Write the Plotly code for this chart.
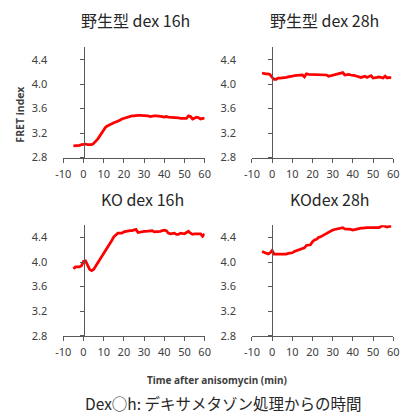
import plotly.graph_objects as go

W, H = 405, 417

minutes = list(range(-5, 61))
minutes_59 = list(range(-5, 60))

wt_16h = [2.99, 2.99, 3.00, 3.00, 3.01, 3.02, 3.02, 3.01, 3.01, 3.01, 3.03, 3.06, 3.10, 3.15, 3.20,
          3.25, 3.30, 3.32, 3.34, 3.36, 3.37, 3.38, 3.39, 3.41, 3.43, 3.44, 3.46, 3.47, 3.47, 3.48,
          3.48, 3.49, 3.49, 3.49, 3.49, 3.49, 3.49, 3.48, 3.47, 3.48, 3.48, 3.48, 3.48, 3.48, 3.47,
          3.46, 3.47, 3.46, 3.46, 3.46, 3.45, 3.45, 3.45, 3.44, 3.44, 3.43, 3.44, 3.48, 3.47, 3.43,
          3.44, 3.46, 3.45, 3.43, 3.44, 3.44]

wt_28h = [4.18, 4.17, 4.17, 4.17, 4.155, 4.11, 4.08, 4.08, 4.10, 4.10, 4.10, 4.11, 4.11, 4.12, 4.12,
          4.13, 4.14, 4.14, 4.15, 4.14, 4.15, 4.12, 4.17, 4.16, 4.16, 4.15, 4.15, 4.15, 4.15, 4.15,
          4.15, 4.155, 4.15, 4.13, 4.14, 4.15, 4.15, 4.16, 4.17, 4.18, 4.19, 4.15, 4.16, 4.16, 4.15,
          4.15, 4.14, 4.13, 4.12, 4.11, 4.12, 4.13, 4.11, 4.12, 4.14, 4.10, 4.10, 4.11, 4.12, 4.11,
          4.10, 4.13, 4.10, 4.11, 4.10]

ko_16h = [3.89, 3.92, 3.92, 3.92, 3.94, 4.01, 4.02, 3.95, 3.88, 3.86, 3.88, 3.93, 3.98, 4.04, 4.09,
          4.14, 4.18, 4.23, 4.29, 4.35, 4.41, 4.44, 4.47, 4.47, 4.47, 4.49, 4.50, 4.51, 4.51, 4.51,
          4.52, 4.53, 4.48, 4.49, 4.50, 4.50, 4.50, 4.50, 4.50, 4.51, 4.49, 4.49, 4.49, 4.50, 4.51,
          4.52, 4.51, 4.47, 4.46, 4.46, 4.47, 4.45, 4.45, 4.47, 4.46, 4.46, 4.48, 4.50, 4.47, 4.45,
          4.46, 4.46, 4.47, 4.46, 4.42, 4.46]

ko_28h = [4.17, 4.16, 4.15, 4.13, 4.15, 4.19, 4.13, 4.13, 4.13, 4.13, 4.12, 4.12, 4.13, 4.14, 4.14,
          4.15, 4.17, 4.18, 4.19, 4.20, 4.22, 4.23, 4.27, 4.28, 4.28, 4.33, 4.36, 4.37, 4.40, 4.41,
          4.43, 4.45, 4.47, 4.48, 4.50, 4.52, 4.53, 4.54, 4.55, 4.56, 4.56, 4.54, 4.54, 4.54, 4.53,
          4.52, 4.53, 4.54, 4.54, 4.55, 4.55, 4.56, 4.56, 4.56, 4.56, 4.56, 4.57, 4.57, 4.56, 4.58,
          4.59, 4.58, 4.57, 4.58, 4.58]

panel_titles = ["野生型 dex 16h", "野生型 dex 28h", "KO dex 16h", "KOdex 28h"]
x_ticks = [-10, 0, 10, 20, 30, 40, 50, 60]
x_tick_text = ["-10", "0", "10", "20", "30", "40", "50", "60"]
y_ticks = [2.8, 3.2, 3.6, 4.0, 4.4]
y_tick_text = ["2.8", "3.2", "3.6", "4.0", "4.4"]

series = [(minutes, wt_16h), (minutes_59, wt_28h), (minutes, ko_16h), (minutes_59, ko_28h)]

# panel geometry in pixels: (x_left, x_right, y_top(4.6), y_bottom(2.8))
panels_px = [(57.3, 203.7, 48.3, 160.2), (252.7, 399.0, 48.3, 160.2),
             (57.3, 203.7, 229.0, 341.5), (252.7, 399.0, 229.0, 341.5)]
title_px = [(132, 20.5), (327.7, 20.5), (139.5, 202.5), (333.8, 202.5)]

AX = "#595959"
TXT = "#404040"
FONT = "Noto Sans, Open Sans, sans-serif"
CJK = "Noto Sans CJK JP, Noto Sans, sans-serif"

fig = go.Figure()
layout = dict(
    width=W, height=H, margin=dict(l=0, r=0, t=0, b=0),
    paper_bgcolor="white", plot_bgcolor="white", showlegend=False,
)
annotations = []
for i, ((xs, ys), (xl, xr, yt, yb), title, (tx, ty)) in enumerate(zip(series, panels_px, panel_titles, title_px)):
    n = "" if i == 0 else str(i + 1)
    fig.add_trace(go.Scatter(x=xs, y=ys, mode="lines", line=dict(color="#FF0000", width=2.75),
                             xaxis="x" + n, yaxis="y" + n, hoverinfo="skip"))
    x0 = xl + (xr - xl) * 10 / 70  # paper position of x = 0
    layout["xaxis" + n] = dict(
        domain=[xl / W, xr / W], range=[-10, 60], anchor="y" + n,
        tickvals=x_ticks, ticktext=x_tick_text, ticks="outside", ticklen=4, tickcolor=AX,
        showline=True, linecolor=AX, linewidth=1, showgrid=False, zeroline=False,
        ticklabelstandoff=2, tickfont=dict(family=FONT, size=11, color=TXT), fixedrange=True,
    )
    layout["yaxis" + n] = dict(
        domain=[1 - yb / H, 1 - yt / H], range=[2.8, 4.6], anchor="free", position=x0 / W,
        tickvals=y_ticks, ticktext=y_tick_text, ticks="outside", ticklen=4, tickcolor=AX,
        showline=True, linecolor=AX, linewidth=1, showgrid=False, zeroline=False,
        ticklabelstandoff=30, tickfont=dict(family=FONT, size=11, color=TXT), fixedrange=True,
    )
    annotations.append(dict(text=title, x=tx / W, y=1 - ty / H, xref="paper", yref="paper",
                            showarrow=False, xanchor="center", yanchor="middle",
                            font=dict(family=CJK, size=16, color="#262626")))

annotations.append(dict(text="<b>FRET index</b>", x=12 / W, y=1 - 116 / H, xref="paper", yref="paper",
                        showarrow=False, textangle=-90, xanchor="center", yanchor="middle",
                        font=dict(family=FONT, size=10.5, color=TXT)))
annotations.append(dict(text="<b>Time after anisomycin (min)</b>", x=217 / W, y=1 - 386 / H,
                        xref="paper", yref="paper", showarrow=False, xanchor="center", yanchor="middle",
                        font=dict(family=FONT, size=10, color=TXT)))
annotations.append(dict(text="Dex○h: デキサメタゾン処理からの時間", x=223 / W, y=1 - 410 / H,
                        xref="paper", yref="paper", showarrow=False, xanchor="center", yanchor="middle",
                        font=dict(family="Noto Sans CJK JP", size=15.5, color="#262626")))
layout["annotations"] = annotations
fig.update_layout(**layout)
fig.write_html("out.html", config={"displayModeBar": False},
               post_script="document.body.style.margin='0';")
